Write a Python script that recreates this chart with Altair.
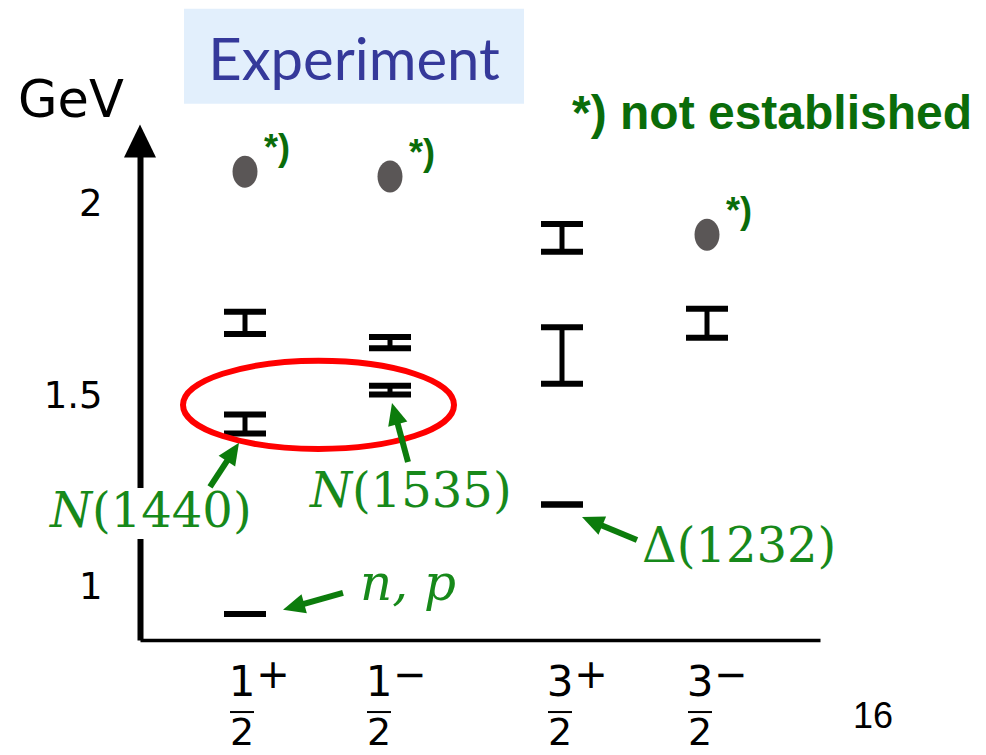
import math

import altair as alt
import pandas as pd

# ---- data -------------------------------------------------------------
# spin-parity columns (J^P) and their horizontal slots
columns = ["1/2+", "1/2-", "3/2+", "3/2-"]
column_pos = [1.05, 2.50, 4.22, 5.67]

# established baryon states: mass band (GeV) per column
state_column = ["1/2+", "1/2+", "1/2+", "1/2-", "1/2-", "3/2+", "3/2+", "3/2+", "3/2-"]
state_low = [0.932, 1.403, 1.663, 1.505, 1.626, 1.218, 1.533, 1.878, 1.653]
state_high = [0.932, 1.453, 1.721, 1.528, 1.655, 1.218, 1.681, 1.950, 1.729]

# states that are not established (mass in GeV)
tentative_column = ["1/2+", "1/2-", "3/2-"]
tentative_mass = [2.087, 2.074, 1.922]

# axis ticks
y_ticks = [1, 1.5, 2]

# J^P labels under the columns
jp_numerator = ["1", "1", "3", "3"]
jp_sign = ["+", "\u2212", "+", "\u2212"]
jp_denominator = ["2", "2", "2", "2"]
jp_label_x = [1.02, 2.39, 4.20, 5.60]

# ---- layout -----------------------------------------------------------
X_DOMAIN = [0.0, 6.8]
Y_DOMAIN = [0.8641, 2.167]
WIDTH, HEIGHT = 680, 499
PX_X = WIDTH / (X_DOMAIN[1] - X_DOMAIN[0])
PX_Y = HEIGHT / (Y_DOMAIN[1] - Y_DOMAIN[0])
CAP_HALF = 0.21

GREEN_TEXT = "#17891a"
GREEN_ARROW = "#0c7c0c"
GREEN_DARK = "#0a6c0a"

xscale = alt.Scale(domain=X_DOMAIN, nice=False, zero=False)
yscale = alt.Scale(domain=Y_DOMAIN, nice=False, zero=False)
x_axis = alt.Axis(title=None, labels=False, ticks=False, grid=False,
                  domain=True, domainColor="black", domainWidth=3.5)
y_axis = alt.Axis(title=None, values=y_ticks, format="~g", ticks=False, tickSize=0,
                  grid=False, domain=True, domainColor="black", domainWidth=6,
                  labelFont="DejaVu Sans", labelFontSize=37, labelColor="black",
                  labelPadding=38)


def X(field):
    return alt.X(field, type="quantitative", scale=xscale, axis=x_axis)


def Y(field):
    return alt.Y(field, type="quantitative", scale=yscale, axis=y_axis)


def ellipse_path(rx, ry):
    k = 0.5523
    f = lambda v: f"{v:.4f}"
    return (f"M {f(-rx)} 0 C {f(-rx)} {f(-ry * k)} {f(-rx * k)} {f(-ry)} 0 {f(-ry)} "
            f"C {f(rx * k)} {f(-ry)} {f(rx)} {f(-ry * k)} {f(rx)} 0 "
            f"C {f(rx)} {f(ry * k)} {f(rx * k)} {f(ry)} 0 {f(ry)} "
            f"C {f(-rx * k)} {f(ry)} {f(-rx)} {f(ry * k)} {f(-rx)} 0 Z")


pos_of = dict(zip(columns, column_pos))

states = pd.DataFrame({"column": state_column, "low": state_low, "high": state_high})
states["x"] = states["column"].map(pos_of)

tentative = pd.DataFrame({"column": tentative_column, "mass": tentative_mass})
tentative["x"] = tentative["column"].map(pos_of)
tentative["note"] = "*)"

# ---- resonance bars ---------------------------------------------------
caps = (
    alt.Chart(states)
    .transform_fold(["low", "high"], as_=["edge", "mass"])
    .transform_calculate(x_left=f"datum.x - {CAP_HALF}", x_right=f"datum.x + {CAP_HALF}")
    .mark_rule(color="black", strokeWidth=6, strokeCap="butt")
    .encode(x=X("x_left"), x2="x_right:Q", y=Y("mass"))
)
stems = (
    alt.Chart(states)
    .transform_filter("datum.high > datum.low")
    .mark_rule(color="black", strokeWidth=5, strokeCap="butt")
    .encode(x=X("x"), y=Y("low"), y2="high:Q")
)

dots = (
    alt.Chart(tentative)
    .mark_point(shape=ellipse_path(0.78, 1.0), size=1024, filled=True,
                color="#5a5656", opacity=1)
    .encode(x=X("x"), y=Y("mass"))
)
dot_notes = (
    alt.Chart(tentative)
    .mark_text(align="left", baseline="alphabetic", dx=19, dy=-12,
               font="Liberation Sans", fontWeight="bold", fontSize=36, color=GREEN_DARK)
    .encode(x=X("x"), y=Y("mass"), text="note:N")
)

# ---- axis arrow head --------------------------------------------------
axis_head = (
    alt.Chart(pd.DataFrame({"x": [X_DOMAIN[0]], "y": [Y_DOMAIN[1]]}))
    .mark_point(shape="M 0 -1 L 0.97 1 L -0.97 1 Z", size=1089, filled=True,
                color="black", opacity=1)
    .encode(x=X("x"), y=Y("y"))
)

# ---- J^P labels -------------------------------------------------------
jp = pd.DataFrame({
    "x": jp_label_x, "num": jp_numerator, "sign": jp_sign, "den": jp_denominator,
})
jp["y_num"] = 0.7180
jp["y_sign"] = 0.7690
jp["y_bar"] = 0.6760
jp["y_den"] = 0.5900
jp["x_bar_l"] = jp["x"] - 0.12
jp["x_bar_r"] = jp["x"] + 0.12

jp_num = alt.Chart(jp).mark_text(font="DejaVu Sans", fontSize=42, baseline="alphabetic",
                                  color="black").encode(x=X("x"), y=Y("y_num"), text="num:N")
jp_sig = alt.Chart(jp).mark_text(font="DejaVu Sans", fontSize=40, baseline="middle", dx=31,
                                  color="black").encode(x=X("x"), y=Y("y_sign"), text="sign:N")
jp_bar = alt.Chart(jp).mark_rule(color="black", strokeWidth=2).encode(
    x=X("x_bar_l"), x2="x_bar_r:Q", y=Y("y_bar"))
jp_den = alt.Chart(jp).mark_text(font="DejaVu Sans", fontSize=38, baseline="alphabetic",
                                  color="black").encode(x=X("x"), y=Y("y_den"), text="den:N")

# ---- annotations ------------------------------------------------------
# white backing behind the N(1440) label (it sits on the axis line)
label_back = (
    alt.Chart(pd.DataFrame({"x": [-0.95], "x2": [1.15], "y": [1.128], "y2": [1.261]}))
    .mark_rect(color="white")
    .encode(x=X("x"), x2="x2:Q", y=Y("y"), y2="y2:Q")
)

ring = (
    alt.Chart(pd.DataFrame({"x": [1.785], "y": [1.478]}))
    .mark_point(shape=ellipse_path(1.0, 0.325), size=271 ** 2, filled=False,
                color="#ff0000", strokeWidth=6, opacity=1)
    .encode(x=X("x"), y=Y("y"))
)

# arrows: tail -> tip, in chart units
arrow_tail_x = [0.70, 2.68, 2.03, 4.97]
arrow_tail_y = [1.264, 1.329, 0.987, 1.125]
arrow_tip_x = [0.99, 2.52, 1.43, 4.42]
arrow_tip_y = [1.379, 1.483, 0.943, 1.185]
HEAD_LEN = 22

rows = []
for tx, ty, hx, hy in zip(arrow_tail_x, arrow_tail_y, arrow_tip_x, arrow_tip_y):
    dxp = (hx - tx) * PX_X
    dyp = -(hy - ty) * PX_Y
    L = math.hypot(dxp, dyp)
    ux, uy = dxp / L, dyp / L
    rows.append({
        "x0": tx, "y0": ty,
        "x1": hx - ux * (HEAD_LEN - 3) / PX_X, "y1": hy + uy * (HEAD_LEN - 3) / PX_Y,
        "hx": hx - ux * HEAD_LEN / 2 / PX_X, "hy": hy + uy * HEAD_LEN / 2 / PX_Y,
        "angle": math.degrees(math.atan2(ux, -uy)) % 360,
    })
arrows = pd.DataFrame(rows)

shafts = alt.Chart(arrows).mark_rule(color=GREEN_ARROW, strokeWidth=6, strokeCap="butt").encode(
    x=X("x0"), y=Y("y0"), x2="x1:Q", y2="y1:Q")
heads = alt.Chart(arrows).mark_point(
    shape="M 0 -1 L 0.9 1 L -0.9 1 Z", size=HEAD_LEN ** 2, filled=True,
    color=GREEN_ARROW, opacity=1,
).encode(x=X("hx"), y=Y("hy"), angle=alt.Angle("angle:Q", scale=None))

italic_names = pd.DataFrame({"text": ["N", "N"], "x": [-0.48, 2.12], "y": [1.159, 1.2115]})
upright_names = pd.DataFrame({"text": ["(1440)", "(1535)", "\u0394(1232)"],
                              "x": [-0.48, 2.12, 5.02], "y": [1.159, 1.2115, 1.068]})
np_name = pd.DataFrame({"text": ["n, p"], "x": [2.68], "y": [0.969]})

name_it = alt.Chart(italic_names).mark_text(
    align="right", baseline="alphabetic", font="DejaVu Serif", fontStyle="italic",
    fontSize=48, color=GREEN_TEXT).encode(x=X("x"), y=Y("y"), text="text:N")
name_up = alt.Chart(upright_names).mark_text(
    align="left", baseline="alphabetic", font="DejaVu Serif",
    fontSize=48, color=GREEN_TEXT).encode(x=X("x"), y=Y("y"), text="text:N")
name_np = alt.Chart(np_name).mark_text(
    align="center", baseline="alphabetic", font="DejaVu Serif", fontStyle="italic",
    fontSize=50, color=GREEN_TEXT).encode(x=X("x"), y=Y("y"), text="text:N")

# ---- headings ---------------------------------------------------------
title_box = (
    alt.Chart(pd.DataFrame({"x": [0.44], "x2": [3.84], "y": [2.264], "y2": [2.512]}))
    .mark_rect(color="#e2effc")
    .encode(x=X("x"), x2="x2:Q", y=Y("y"), y2="y2:Q")
)
title_text = (
    alt.Chart(pd.DataFrame({"text": ["Experiment"], "x": [2.14], "y": [2.326]}))
    .mark_text(align="center", baseline="alphabetic", font="Lato", fontSize=58,
               color="#35399a")
    .encode(x=X("x"), y=Y("y"), text="text:N")
)
legend_note = (
    alt.Chart(pd.DataFrame({"text": ["*) not established"], "x": [4.32], "y": [2.198]}))
    .mark_text(align="left", baseline="alphabetic", font="Liberation Sans",
               fontWeight="bold", fontSize=48, color=GREEN_DARK)
    .encode(x=X("x"), y=Y("y"), text="text:N")
)
unit_text = (
    alt.Chart(pd.DataFrame({"text": ["GeV"], "x": [-1.22], "y": [2.230]}))
    .mark_text(align="left", baseline="alphabetic", font="DejaVu Sans", fontSize=51,
               color="black")
    .encode(x=X("x"), y=Y("y"), text="text:N")
)
page_no = (
    alt.Chart(pd.DataFrame({"text": ["16"], "x": [7.33], "y": [0.6345]}))
    .mark_text(align="center", baseline="alphabetic", font="Liberation Sans", fontSize=36,
               color="black")
    .encode(x=X("x"), y=Y("y"), text="text:N")
)

chart = (
    alt.layer(
        title_box, title_text, legend_note, unit_text, page_no,
        label_back, caps, stems, dots, dot_notes, axis_head,
        jp_num, jp_sig, jp_bar, jp_den,
        ring, shafts, heads, name_it, name_up, name_np,
    )
    .properties(
        width=WIDTH, height=HEIGHT,
        padding={"left": 140, "top": 141, "right": 166, "bottom": 115},
        autosize=alt.AutoSizeParams(type="none"),
        background="white",
    )
    .configure_view(stroke=None)
)

chart.save("out.html", embed_options={"renderer": "svg", "actions": False})
